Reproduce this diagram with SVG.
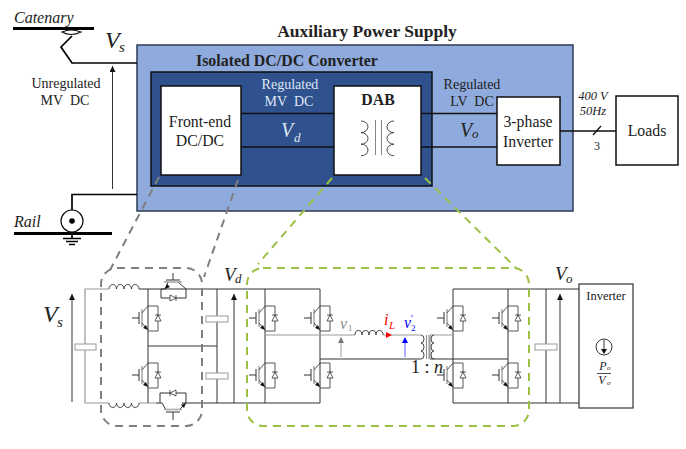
<svg xmlns="http://www.w3.org/2000/svg" xmlns:xlink="http://www.w3.org/1999/xlink" width="686" height="449" viewBox="0 0 686 449">
<style>
text{font-family:"Liberation Serif","Times New Roman",serif;fill:#222}
.c{text-anchor:middle}
.i{font-style:italic}
.b{font-weight:bold}
.w{fill:#dfe6f3}
.box{fill:#fff;stroke:#111;stroke-width:1.5}
.w1{fill:none;stroke:#333;stroke-width:1}
.w2{fill:none;stroke:#111;stroke-width:1.3}
.th{fill:none;stroke:#000;stroke-width:1.700}
.rail{fill:none;stroke:#000;stroke-width:3}
.g{fill:none;stroke:#999;stroke-width:1.2}
.cap{fill:#fff;stroke:#999;stroke-width:1}
.dg{fill:none;stroke:#7f7f7f;stroke-width:2;stroke-dasharray:8 6}
.dl{fill:none;stroke:#9dc146;stroke-width:2;stroke-dasharray:8 6}
.coil{fill:none;stroke:#333;stroke-width:.9}
</style>
<defs>
<marker id="ah" markerUnits="userSpaceOnUse" markerWidth="7" markerHeight="6" refX="6" refY="3" orient="auto"><path d="M0,0L6,3L0,6Z" fill="#111"/></marker>
<g id="igbt">
<path d="M-16,0H-9M-9,-6V6" fill="none" stroke="#333" stroke-width="1"/>
<path d="M-6,-9V9" fill="none" stroke="#aaa" stroke-width="1.600"/>
<path d="M-6,-5L0,-12H10V13H0M-6,5L0,12" fill="none" stroke="#444" stroke-width=".9"/>
<path d="M0,12L-5,10L-2,7Z" fill="#111"/>
<path d="M10,-3L7,3H13ZM7,-3H13" fill="#fff" stroke="#333" stroke-width=".8"/>
</g>
</defs>

<g id="aps"><rect x="137" y="45" width="436" height="166" fill="#8faadc" stroke="#2c3a55" stroke-width="1.5"/>
<text class="c b" x="367" y="37" font-size="17.500">Auxiliary Power Supply</text></g>
<g id="iso"><rect x="151" y="72" width="281" height="114" fill="#2f528f" stroke="#111" stroke-width="1.5"/>
<text class="b" x="196" y="66" font-size="15.900">Isolated DC/DC Converter</text></g>

<g id="connectors">
<path class="rail" d="M13,28.500H94M14,233.500H112"/>
<path class="th" d="M72,36L61,47L72,63H137M72,210V194.500H137M72,235V239M63,238.500H81M66,241.500H78M69,244.500H75"/>
<path d="M62,32Q71,28 81,32Q71,37 62,32Z" fill="#fff" stroke="#111" stroke-width="1.200"/>
<path class="w1" d="M112.500,189V66" marker-end="url(#ah)"/>
<path class="w2" d="M241,113.500H334M241,147H334M421,113.500H497M421,147H497M560,131H616"/>
<path class="w2" d="M593,135L601,126"/>
<path class="dg" d="M159,177L110,270M238,180L204,277"/>
<path class="dl" d="M332,178L258,264M425,178L516,268"/>
</g>

<g id="rail-source"><circle cx="72" cy="221" r="11" fill="#fff" stroke="#111" stroke-width="1.200"/><circle cx="72" cy="221" r="2.800" fill="#000"/></g>
<g id="labels-top">
<text class="i" x="14" y="23" font-size="16">Catenary</text>
<text class="i" x="14" y="227" font-size="16">Rail</text>
<text class="i" x="105" y="48" font-size="24">V</text><text class="i" x="119" y="52" font-size="15">s</text>
<text class="c" x="66" y="88" font-size="14">Unregulated</text>
<text class="c" x="65" y="105" font-size="14" xml:space="preserve">MV  DC</text>
<text class="c w" x="290" y="89" font-size="14">Regulated</text>
<text class="c w" x="289" y="106" font-size="14" xml:space="preserve">MV  DC</text>
<text class="i w" x="281" y="137" font-size="20">V</text><text class="i w" x="294" y="142" font-size="13">d</text>
<text class="c" x="472" y="89" font-size="14">Regulated</text>
<text class="c" x="472" y="106" font-size="14" xml:space="preserve">LV  DC</text>
<text class="i" x="460" y="137" font-size="20">V</text><text class="i" x="472" y="138" font-size="13">o</text>
<text class="c i" x="593" y="100" font-size="12.500">400 V</text>
<text class="c i" x="593" y="115" font-size="12.500">50Hz</text>
<text class="c" x="597" y="150" font-size="12">3</text>
</g>
<g id="front-end"><rect class="box" x="161" y="86" width="80" height="89"/>
<text class="c" x="200" y="127" font-size="15.800">Front-end</text><text class="c" x="200" y="146" font-size="15.800">DC/DC</text></g>
<g id="dab"><rect class="box" x="334" y="86" width="87" height="89"/>
<text class="c b" x="378" y="105" font-size="15.800">DAB</text>
<path d="M361,121a7,5.800 0 0 1 0,11.600a7,5.800 0 0 1 0,11.600a7,5.800 0 0 1 0,11.600M394,121a7,5.800 0 0 0 0,11.600a7,5.800 0 0 0 0,11.600a7,5.800 0 0 0 0,11.600" class="coil"/>
<path d="M375.500,120V155M381.500,120V155" stroke="#777" stroke-width=".9" fill="none"/></g>
<g id="inverter-3ph"><rect class="box" x="497" y="97" width="63" height="68"/>
<text class="c" x="528" y="127" font-size="15.800">3-phase</text><text class="c" x="528" y="147" font-size="15.800">Inverter</text></g>
<g id="loads"><rect class="box" x="616" y="96" width="62" height="69"/><text class="c" x="647" y="136" font-size="15.800">Loads</text></g>

<g id="bottom-wiring">
<path class="g" d="M109,289H85V403H109M139,403H156"/>
<path class="w1" d="M139,289H190M182,403H320M190,289H320M148,289V403M148,346H217M217,289V403M265,289V403M320,289V403"/>
<path class="w1" d="M72,402V294" marker-end="url(#ah)"/>
<path class="w1" d="M234,403V294" marker-end="url(#ah)"/>
<path class="g" d="M265,335H355M383,335H421"/>
<path class="w1" d="M320,359H421M430,359H508M453,289H579M453,403H579M453,289V403M508,289V403M546,289V403"/>
<path class="g" d="M430,335H453M430,335V359"/>
<path class="w1" d="M560,403V294" marker-end="url(#ah)"/>
<path class="coil" d="M109,289a3.750,4.500 0 0 1 7.500,0a3.750,4.500 0 0 1 7.500,0a3.750,4.500 0 0 1 7.500,0a3.750,4.500 0 0 1 7.500,0M109,403a3.750,4.500 0 0 0 7.500,0a3.750,4.500 0 0 0 7.500,0a3.750,4.500 0 0 0 7.500,0a3.750,4.500 0 0 0 7.500,0M355,335a3.500,4.500 0 0 1 7,0a3.500,4.500 0 0 1 7,0a3.500,4.500 0 0 1 7,0a3.500,4.500 0 0 1 7,0"/>
<path class="coil" d="M421,335a3,4 0 0 1 0,8a3,4 0 0 1 0,8a3,4 0 0 1 0,8M434,335a3,4 0 0 0 0,8a3,4 0 0 0 0,8a3,4 0 0 0 0,8"/>
<path d="M426.500,335V359M429,335V359" stroke="#888" stroke-width="1" fill="none"/>
<rect class="cap" x="75" y="344" width="21" height="6"/>
<rect class="cap" x="206" y="316" width="22" height="6"/><rect class="cap" x="206" y="373" width="22" height="6"/>
<rect class="cap" x="535" y="344" width="22" height="6"/>
</g>
<g id="switches">
<use xlink:href="#igbt" href="#igbt" x="148" y="318"/><use xlink:href="#igbt" href="#igbt" x="148" y="375"/>
<use xlink:href="#igbt" href="#igbt" x="265" y="318"/><use xlink:href="#igbt" href="#igbt" x="265" y="375"/>
<use xlink:href="#igbt" href="#igbt" x="320" y="318"/><use xlink:href="#igbt" href="#igbt" x="320" y="375"/>
<use xlink:href="#igbt" href="#igbt" x="453" y="318"/><use xlink:href="#igbt" href="#igbt" x="453" y="375"/>
<use xlink:href="#igbt" href="#igbt" x="508" y="318"/><use xlink:href="#igbt" href="#igbt" x="508" y="375"/>
<g id="sw-top"><path class="w1" d="M173,273V280M166,280H180M161,289V298H186V289M161,289H165L168,282M178,282L186,289"/><path d="M164,282H182" stroke="#aaa" stroke-width="1.600"/><path d="M165,289L167,284L170,287Z" fill="#111"/><path d="M170,295L176,298L170,301ZM176,295V301" fill="#fff" stroke="#333" stroke-width=".8"/></g>
<g id="sw-bottom"><path class="w1" d="M173,420V412M166,412H180M160,403V393H186V403M156,403H162L166,410M179,410L186,403"/><path d="M164,409.500H182" stroke="#aaa" stroke-width="1.600"/><path d="M186,403L184,408L181,405Z" fill="#111"/><path d="M176,390L170,393L176,396ZM170,390V396" fill="#fff" stroke="#333" stroke-width=".8"/></g>
</g>
<g id="measurements">
<path d="M341,357V338" stroke="#aaa" stroke-width="1.200"/><path d="M341,337l-3,6h6Z" fill="#777"/>
<path d="M405,357V338" stroke="#7a7aff" stroke-width="1.200"/><path d="M405,337l-3,6h6Z" fill="#00f"/>
<path d="M392,335l-6,-3v6Z" fill="#f00"/>
</g>
<g id="inverter-dc"><rect x="579" y="284" width="54" height="124" fill="#fff" stroke="#333" stroke-width="1.200"/>
<text class="c" x="606" y="300" font-size="12.500">Inverter</text>
<circle cx="604" cy="347" r="8" fill="none" stroke="#222" stroke-width=".9"/><path d="M604,340V350" stroke="#222" stroke-width=".9"/><path d="M604,354l-3,-5h6Z" fill="#111"/>
<text class="c i" x="603" y="370" font-size="12">P</text><text class="i" x="607" y="370" font-size="7">o</text>
<path d="M597,373.500H611" stroke="#222" stroke-width=".8"/>
<text class="c i" x="602" y="384" font-size="12">V</text><text class="i" x="607" y="385" font-size="7">o</text></g>
<g id="labels-bottom">
<text class="i" x="43" y="322" font-size="24">V</text><text class="i" x="57" y="327" font-size="15">s</text>
<text class="i" x="224" y="281" font-size="19">V</text><text class="i" x="235" y="283" font-size="13">d</text>
<text class="i" x="555" y="280" font-size="19">V</text><text class="i" x="566" y="283" font-size="13">o</text>
<text class="i" x="340" y="329" font-size="16" style="fill:#8a8a8a">v</text><text x="348" y="331" font-size="9" style="fill:#8a8a8a">1</text>
<text class="i" x="384" y="325" font-size="16" style="fill:#f00">i</text><text class="i" x="389" y="329" font-size="11" style="fill:#f00">L</text>
<text class="i" x="404" y="328" font-size="16" style="fill:#00f">v</text><text x="411" y="322" font-size="10" style="fill:#00f">′</text><text x="411" y="331" font-size="9" style="fill:#00f">2</text>
<text x="411" y="373" font-size="18">1 : <tspan class="i">n</tspan></text>
</g>
<g id="zoom-frames">
<rect class="dg" x="101" y="268" width="101" height="158" rx="16"/>
<rect class="dl" x="247" y="268" width="282" height="158" rx="16"/>
</g>
</svg>
